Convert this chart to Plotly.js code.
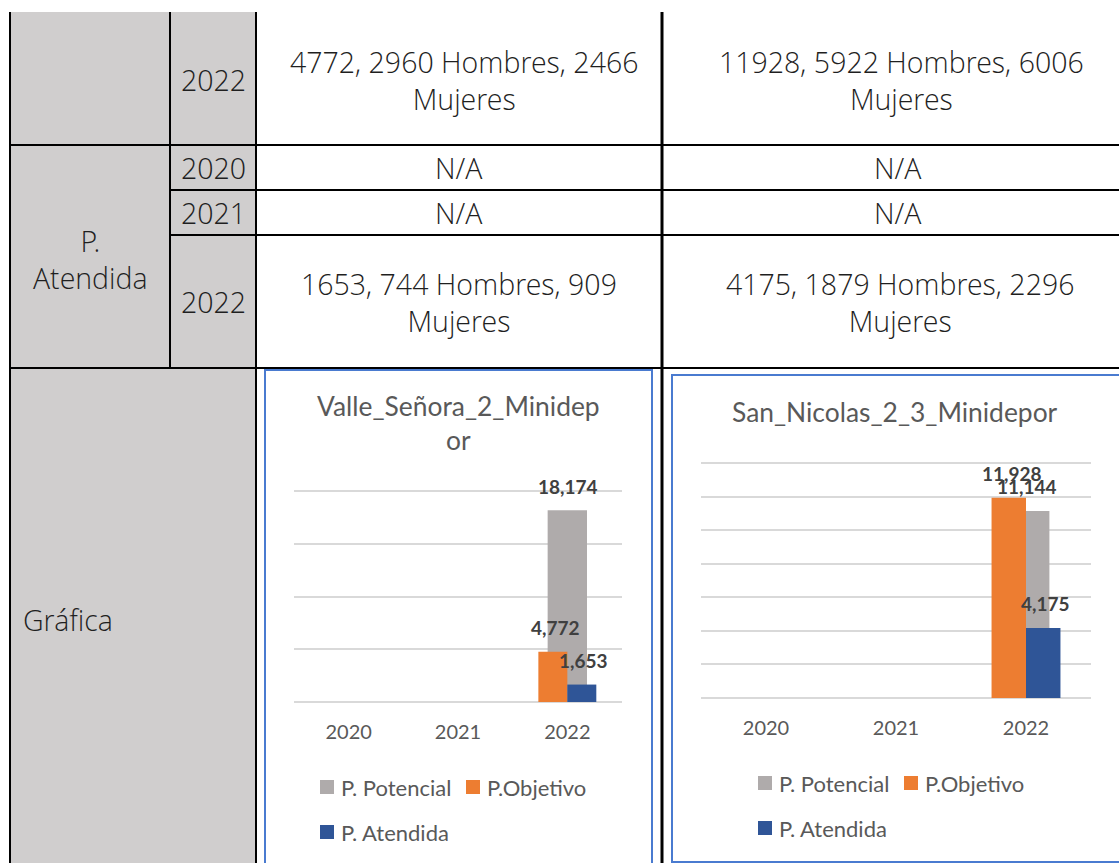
<!DOCTYPE html>
<html>
<head>
<meta charset="utf-8">
<script src="https://cdn.plot.ly/plotly-3.0.1.min.js"></script>
<style>
  html, body { margin: 0; padding: 0; background: #ffffff; }
  #chart { width: 1119px; height: 863px; }
</style>
</head>
<body>
<div id="chart"></div>
<script>
// ---------------- DATA ----------------
const years = ['2020', '2021', '2022'];
const seriesNames = ['P. Potencial', 'P.Objetivo', 'P. Atendida'];
const seriesColors = ['#AFABAB', '#ED7D31', '#2F5597'];

const valleTitle = 'Valle_Señora_2_Minidep<br>or';
const valle_potencial = [null, null, 18174];
const valle_objetivo  = [null, null, 4772];
const valle_atendida  = [null, null, 1653];

const sanNicolasTitle = 'San_Nicolas_2_3_Minidepor';
const sanNicolas_potencial = [null, null, 11144];
const sanNicolas_objetivo  = [null, null, 11928];
const sanNicolas_atendida  = [null, null, 4175];

// value-axis settings (max of the gridlines, gridline step)
const valleAxisMax = 20000, valleAxisStep = 5000;
const sanNicAxisMax = 14000, sanNicAxisStep = 2000;

// table text
const rowLabelAtendida = 'P.<br>Atendida';
const rowLabelGrafica = 'Gráfica';
const tableYears = ['2022', '2020', '2021', '2022'];
const valleObjetivoText   = '4772, 2960 Hombres, 2466<br>Mujeres';
const sanNicObjetivoText  = '11928, 5922 Hombres, 6006<br>Mujeres';
const naText = 'N/A';
const valleAtendidaText   = '1653, 744 Hombres, 909<br>Mujeres';
const sanNicAtendidaText  = '4175, 1879 Hombres, 2296<br>Mujeres';

// ---------------- LAYOUT HELPERS ----------------
const W = 1119, H = 863;
const X = px => px / W;
const Y = py => 1 - py / H;

const shapes = [];
const annotations = [];

function line(x0, y0, x1, y1, width, color) {
  shapes.push({type: 'line', xref: 'paper', yref: 'paper', x0: X(x0), y0: Y(y0), x1: X(x1), y1: Y(y1),
    line: {color: color || '#000000', width: width || 2}, layer: 'above'});
}
function rect(x0, y0, x1, y1, fill, lineColor, lineWidth, layer) {
  shapes.push({type: 'rect', xref: 'paper', yref: 'paper', x0: X(x0), y0: Y(y0), x1: X(x1), y1: Y(y1),
    fillcolor: fill || 'rgba(0,0,0,0)',
    line: {color: lineColor || 'rgba(0,0,0,0)', width: lineWidth || 0}, layer: layer || 'above'});
}
const tableFont = {family: 'Open Sans Light, Open Sans', size: 28.5, color: '#1f1f1f', weight: 300};
function text(x, y, t, font, xanchor) {
  annotations.push({xref: 'paper', yref: 'paper', x: X(x), y: Y(y), text: t, showarrow: false,
    xanchor: xanchor || 'center', yanchor: 'middle', align: xanchor === 'left' ? 'left' : 'center',
    font: font || tableFont});
}

// ---------------- TABLE ----------------
rect(10, 12, 256, 870, '#D0CECE', null, 0, 'below');
line(10, 12, 10, 870);
line(170, 12, 170, 368);
line(256, 12, 256, 870);
line(662, 12, 662, 870, 3);
line(10, 145, 1125, 145);
line(170, 190, 1125, 190);
line(170, 235, 1125, 235);
line(10, 368, 1125, 368);

text(213, 80, tableYears[0]);
text(213, 168, tableYears[1]);
text(213, 213, tableYears[2]);
text(213, 302, tableYears[3]);
text(90, 259, rowLabelAtendida);
text(21, 620, rowLabelGrafica, tableFont, 'left');

text(464, 80, valleObjetivoText);
text(901, 80, sanNicObjetivoText);
text(459, 168, naText);
text(898, 168, naText);
text(459, 213, naText);
text(898, 213, naText);
text(459, 302, valleAtendidaText);
text(900, 302, sanNicAtendidaText);

// chart frames
rect(265, 370, 652, 875, null, '#4A7BD0', 2);
rect(672, 375, 1130, 862, null, '#4A7BD0', 2);

// ---------------- CHARTS ----------------
const barWidth = 0.265, potWidth = 0.36;
const geom = [
  {width: potWidth, offset: -potWidth / 2, label: 0.01},
  {width: barWidth, offset: -barWidth, label: -0.11},
  {width: barWidth, offset: 0, label: 0.15}
];
const charts = [
  {xa: 'x', ya: 'y', title: valleTitle, series: [valle_potencial, valle_objetivo, valle_atendida],
   titlePos: [458, 423], legend: [[320, 787, 466], [320, 832]]},
  {xa: 'x2', ya: 'y2', title: sanNicolasTitle, series: [sanNicolas_potencial, sanNicolas_objetivo, sanNicolas_atendida],
   titlePos: [895, 412], legend: [[758, 783, 904], [758, 828]]}
];

const traces = [];
const chartFont = 'Lato';
charts.forEach(c => {
  c.series.forEach((vals, i) => {
    traces.push({
      type: 'bar', x: years, y: vals, xaxis: c.xa, yaxis: c.ya, name: seriesNames[i],
      width: years.map(() => geom[i].width), offset: years.map(() => geom[i].offset),
      marker: {color: seriesColors[i], line: {width: 0}}, showlegend: false, hoverinfo: 'skip'
    });
    vals.forEach((v, k) => {
      if (v === null) return;
      annotations.push({xref: c.xa, yref: c.ya, x: k + geom[i].label, y: v, yshift: 24,
        text: v.toLocaleString('en-US'), showarrow: false, xanchor: 'center', yanchor: 'middle',
        font: {family: chartFont, size: 19, color: '#404040', weight: 'bold'}});
    });
  });
  // title
  annotations.push({xref: 'paper', yref: 'paper', x: X(c.titlePos[0]), y: Y(c.titlePos[1]), text: c.title,
    showarrow: false, xanchor: 'center', yanchor: 'middle', align: 'center',
    font: {family: chartFont, size: 26.4, color: '#595959'}});
  // legend
  const rows = [[0, c.legend[0][0], c.legend[0][1]], [1, c.legend[0][2], c.legend[0][1]], [2, c.legend[1][0], c.legend[1][1]]];
  rows.forEach(([i, lx, ly]) => {
    rect(lx, ly - 7, lx + 14, ly + 7, seriesColors[i], null, 0);
    text(lx + 19, ly, seriesNames[i], {family: chartFont, size: 22, color: '#595959'}, 'left');
  });
});

const axisX = {type: 'category', categoryorder: 'array', categoryarray: years, range: [-0.5, 2.5],
  showgrid: false, zeroline: false, showline: false, ticks: '', ticklabelstandoff: 16,
  tickfont: {family: chartFont, size: 20, color: '#595959'}, fixedrange: true};
const axisY = {showticklabels: false, showgrid: true, gridcolor: '#D9D9D9', gridwidth: 2,
  zeroline: true, zerolinecolor: '#D9D9D9', zerolinewidth: 2, showline: false, ticks: '', fixedrange: true};

// plot areas: baseline pixel, top-gridline pixel; a few px of headroom so the top gridline is drawn
const pad = 4;
function yAxisFor(base, top, max, step) {
  const perPx = max / (base - top);
  return {domain: [Y(base), Y(top - pad)], range: [0, max + pad * perPx], tick0: 0, dtick: step};
}

const layout = {
  width: W, height: H, margin: {l: 0, r: 0, t: 0, b: 0},
  paper_bgcolor: '#ffffff', plot_bgcolor: 'rgba(0,0,0,0)',
  barmode: 'overlay', showlegend: false,
  xaxis: Object.assign({}, axisX, {domain: [X(294), X(622)], anchor: 'y'}),
  yaxis: Object.assign({}, axisY, yAxisFor(702, 491, valleAxisMax, valleAxisStep), {anchor: 'x'}),
  xaxis2: Object.assign({}, axisX, {domain: [X(701), X(1091)], anchor: 'y2'}),
  yaxis2: Object.assign({}, axisY, yAxisFor(698, 463, sanNicAxisMax, sanNicAxisStep), {anchor: 'x2'}),
  shapes: shapes,
  annotations: annotations
};

Plotly.newPlot('chart', traces, layout, {displayModeBar: false, staticPlot: true});
</script>
</body>
</html>
